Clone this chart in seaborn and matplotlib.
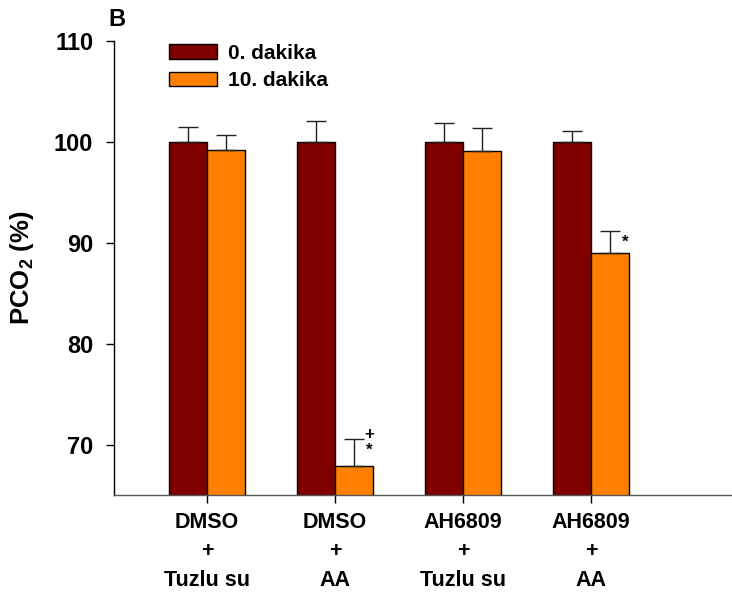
import numpy as np
import pandas as pd
import matplotlib
matplotlib.use("Agg")
import matplotlib.pyplot as plt
import seaborn as sns

# veri
groups = ["DMSO\n+\nTuzlu su", "DMSO\n+\nAA", "AH6809\n+\nTuzlu su", "AH6809\n+\nAA"]
times = ["0. dakika", "10. dakika"]
pco2_0 = [100.0, 100.0, 100.0, 100.0]
pco2_10 = [99.2, 67.9, 99.1, 89.0]
err_0 = [1.5, 2.05, 1.9, 1.1]
err_10 = [1.45, 2.6, 2.3, 2.15]
marks_10 = ["", "+\n*", "", "*"]

df = pd.DataFrame({
    "grup": groups * 2,
    "zaman": [times[0]] * 4 + [times[1]] * 4,
    "pco2": pco2_0 + pco2_10,
})

sns.set_style("ticks")
plt.rcParams["font.family"] = ["Liberation Sans", "DejaVu Sans"]
plt.rcParams["font.weight"] = "bold"
plt.rcParams["text.color"] = "black"
plt.rcParams["axes.labelcolor"] = "black"
plt.rcParams["xtick.color"] = "black"
plt.rcParams["ytick.color"] = "black"
plt.rcParams["mathtext.fontset"] = "custom"
plt.rcParams["mathtext.bf"] = "Liberation Sans:bold"
plt.rcParams["mathtext.rm"] = "Liberation Sans:bold"

fig = plt.figure(figsize=(7.32, 5.92), dpi=100)
ax = fig.add_axes([0.1557, 0.1639, 0.8443, 0.7668])

sns.barplot(data=df, x="grup", y="pco2", hue="zaman", order=groups, hue_order=times,
            palette=["#800000", "#FF8000"], errorbar=None, width=0.594,
            edgecolor="black", linewidth=1.0, saturation=1, ax=ax)

# hata cubuklari (sadece yukari)
bars = [p for p in ax.patches if p.get_width() > 0 and p.get_height() > 0]
bars = sorted(bars, key=lambda p: p.get_x())
vals = []
errs = []
marks = []
for i in range(4):
    vals += [pco2_0[i], pco2_10[i]]
    errs += [err_0[i], err_10[i]]
    marks += ["", marks_10[i]]
xs = [p.get_x() + p.get_width() / 2 for p in bars]
ax.errorbar(xs, vals, yerr=[np.zeros(len(errs)), errs], fmt="none",
            ecolor="#222222", elinewidth=1.0, capsize=7, capthick=1.0, zorder=3)

for x, v, e, m in zip(xs, vals, errs, marks):
    if m:
        lines = m.split("\n")[::-1]
        for k, s in enumerate(lines):
            ax.text(x + 0.117, v + e - 1.5 + 1.5 * k, s, ha="center", va="baseline",
                    fontsize=12, fontweight="bold")

ax.set_ylim(65, 110)
ax.set_xlim(-0.727, 4.10)
ax.set_yticks([70, 80, 90, 100, 110])
ax.tick_params(axis="y", labelsize=17, length=6, width=1, direction="out", pad=9)
ax.tick_params(axis="x", labelsize=15.5, length=6, width=1, direction="out", pad=6)
for lab in ax.get_xticklabels():
    lab.set_linespacing(1.5)
    lab.set_fontweight("bold")
for lab in ax.get_yticklabels():
    lab.set_fontweight("bold")

ax.set_xlabel("")
ax.set_ylabel(r"PCO$_\mathbf{2}$ (%)", fontsize=18.5, fontweight="bold", labelpad=13)

sns.despine(ax=ax)
ax.spines["left"].set_linewidth(1.0)
ax.spines["left"].set_color("black")
ax.spines["bottom"].set_linewidth(1.0)
ax.spines["bottom"].set_color("#555555")

leg = ax.legend(loc="upper left", bbox_to_anchor=(0.089, 0.994), frameon=False,
                fontsize=15, handlelength=2.29, handleheight=0.67, labelspacing=0.4,
                handletextpad=0.55, borderpad=0, borderaxespad=0)
for t in leg.get_texts():
    t.set_fontweight("bold")

fig.text(0.1475, 0.967, "B", fontsize=17, fontweight="bold", ha="left", va="center")

fig.savefig("out.png", dpi=100)
